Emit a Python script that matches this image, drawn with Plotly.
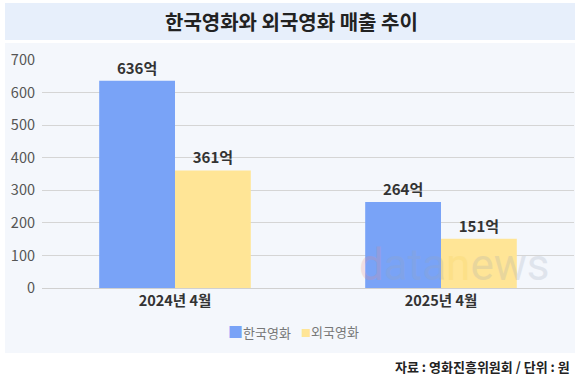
import plotly.graph_objects as go

categories = ["2024년 4월", "2025년 4월"]
korean = [636, 264]
foreign = [361, 151]
korean_labels = ["636억", "264억"]
foreign_labels = ["361억", "151억"]
series_names = ["한국영화", "외국영화"]
series_colors = ["#79a3f7", "#ffe596"]
y_ticks = [0, 100, 200, 300, 400, 500, 600, 700]

FONT = "Noto Sans CJK KR"

W, H = 580, 379
L, R, T, B = 42, 6, 60, 91
PW, PH = W - L - R, H - T - B


def px(x):
    return (x - L) / PW


def py(y):
    return (H - B - y) / PH


fig = go.Figure()
for name, vals, labels, color in [
    (series_names[0], korean, korean_labels, series_colors[0]),
    (series_names[1], foreign, foreign_labels, series_colors[1]),
]:
    fig.add_trace(go.Bar(
        x=categories, y=vals, name=name,
        marker=dict(color=color, line=dict(width=0)),
        text=labels, textposition="outside",
        textfont=dict(family=FONT, size=15, color="#333333", weight="bold"),
        cliponaxis=False,
    ))

shapes = [
    dict(type="rect", xref="paper", yref="paper", x0=px(5), x1=px(575), y0=py(40), y1=py(3),
         fillcolor="#e7effb", line=dict(width=0), layer="below"),
    dict(type="rect", xref="paper", yref="paper", x0=px(5), x1=px(575), y0=py(353), y1=py(43),
         fillcolor="#f4f7fc", line=dict(width=0), layer="below"),
]

annotations = [
    dict(text="<b>한국영화와 외국영화 매출 추이</b>", xref="paper", yref="paper",
         x=px(291), y=py(21), xanchor="center", yanchor="middle", showarrow=False,
         font=dict(family=FONT, size=20, color="#222222")),
    dict(text="<b>자료 : 영화진흥위원회 / 단위 : 원</b>", xref="paper", yref="paper",
         x=px(572), y=py(366), xanchor="right", yanchor="middle", showarrow=False,
         font=dict(family=FONT, size=13, color="#222222")),
    dict(text="<span style='color:#e88a8a'>d</span><span style='color:#9aa3b5'>ata</span>"
              "<span style='color:#f2d25a'>n</span><span style='color:#9aa3b5'>ews</span>",
         xref="paper", yref="paper", x=px(454), y=py(265), xanchor="center", yanchor="middle",
         showarrow=False, opacity=0.22,
         font=dict(family="Roboto", size=44, color="#9aa3b5")),
    # legend
    dict(text=f"<span style='color:{series_colors[0]};font-size:15px'>■</span>{series_names[0]}",
         xref="paper", yref="paper", x=px(226), y=py(331), xanchor="left", yanchor="middle",
         showarrow=False, font=dict(family=FONT, size=13, color="#777777")),
    dict(text=f"<span style='color:{series_colors[1]};font-size:10px'>■</span>{series_names[1]}",
         xref="paper", yref="paper", x=px(299), y=py(331), xanchor="left", yanchor="middle",
         showarrow=False, font=dict(family=FONT, size=13, color="#777777")),
]

fig.update_layout(
    width=W, height=H,
    margin=dict(l=L, r=R, t=T, b=B, autoexpand=False),
    paper_bgcolor="white",
    plot_bgcolor="rgba(0,0,0,0)",
    barmode="group",
    bargap=0.43,
    bargroupgap=0,
    shapes=shapes,
    annotations=annotations,
    showlegend=False,
    xaxis=dict(
        tickfont=dict(family=FONT, size=14.5, color="#333333", weight="bold"),
        showline=True, linecolor="#d0d0d0", linewidth=1,
        ticks="", showgrid=False,
    ),
    yaxis=dict(
        range=[0, 700], tickvals=y_ticks,
        tickfont=dict(family=FONT, size=14.5, color="#555555"),
        gridcolor="#d5d5d5", gridwidth=1,
        zeroline=False, showline=False, ticks="",
        ticklabelstandoff=6,
    ),
    font=dict(family=FONT),
)

fig.write_html("out.html", config={"displayModeBar": False},
               post_script="document.body.style.margin='0';")
